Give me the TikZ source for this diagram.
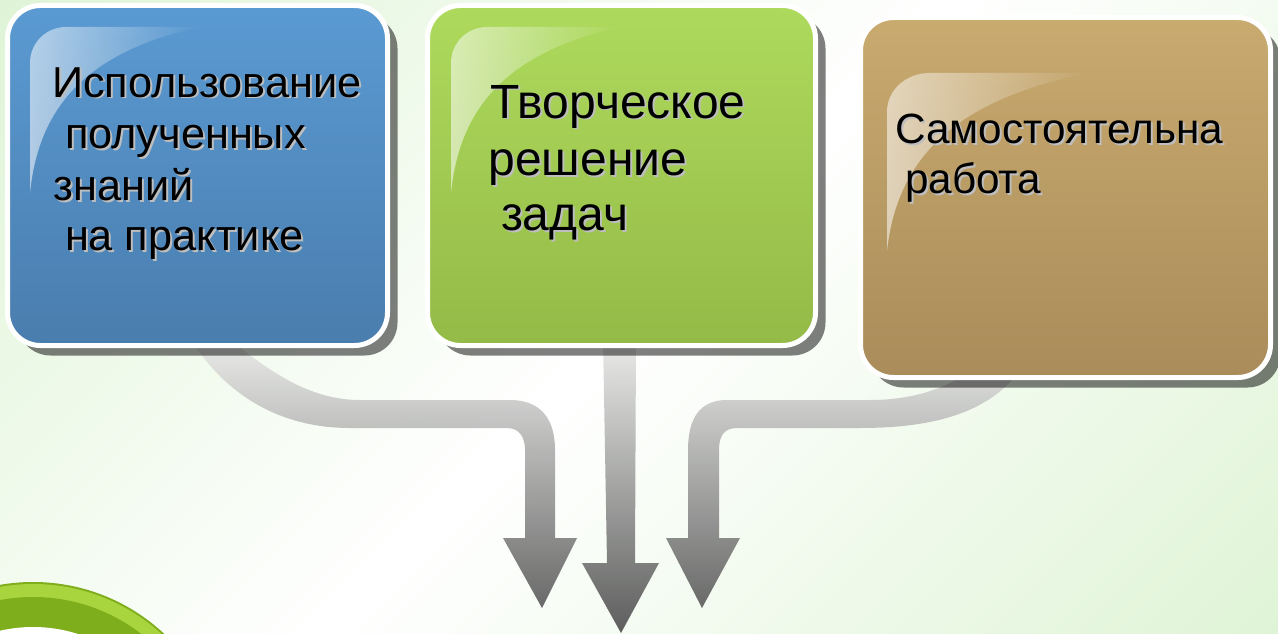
\documentclass[tikz,border=0pt]{standalone}
\usepackage{fontspec}
\setmainfont{Liberation Sans}
\usetikzlibrary{fadings,shadows}
\definecolor{bgG}{HTML}{DFF4D6}
\definecolor{blueT}{HTML}{5A9AD2}
\definecolor{blueB}{HTML}{4A7DAE}
\definecolor{greenT}{HTML}{ADDA5C}
\definecolor{greenB}{HTML}{94BA47}
\definecolor{tanT}{HTML}{C9AA6F}
\definecolor{tanB}{HTML}{A98C5A}
\definecolor{arrT}{HTML}{EBECEA}
\definecolor{arrB}{HTML}{555555}
\definecolor{txtsh}{HTML}{BEBEBE}
\definecolor{ringD}{HTML}{7FAE1C}
\definecolor{ringL}{HTML}{A8D43E}
\tikzfading[name=glossfade, left color=transparent!45, right color=transparent!100]
\tikzset{
  card/.style={draw=white, line width=5pt, rounded corners=33pt, inner sep=0pt,
    drop shadow={shadow xshift=10pt, shadow yshift=-10pt, opacity=0.5, fill=black}},
  lbl/.style={anchor=base west, inner sep=0pt, outer sep=0pt, text=black},
  gloss/.pic={\fill[white, path fading=glossfade] (0,36) -- (0,166) .. controls (8,86) and (50,26) .. (170,0) -- (36,0) .. controls (16,0) and (0,16) .. (0,36) -- cycle;}
}
\newcommand{\ShLabel}[5]{%
  \node[lbl, text=txtsh, xshift=2pt, yshift=-2pt, font=\fontsize{#4}{#4}\selectfont] at (#2,#3) {#5};
  \node[lbl, font=\fontsize{#4}{#4}\selectfont] (#1) at (#2,#3) {#5};}
\begin{document}
\begin{tikzpicture}[x=1pt,y=-1pt]
\useasboundingbox (0,0) rectangle (1278,634);
\clip (0,0) rectangle (1278,634);
% background
\shade[left color=bgG, right color=bgG, middle color=white, shading angle=45] (-200,-200) rectangle (1478,834);
% ring bottom-left
\fill[ringD] (33,774) circle (192);
\fill[ringL] (33,774) circle (190);
\fill[ringD] (33,774) circle (177);
\fill[white] (33,774) circle (147);
% arrows
\shade[top color=arrT, bottom color=arrB, opacity=0.95]
  (190,338) .. controls (225,395) and (280,428) .. (350,428) -- (507,428)
  .. controls (519,428) and (525,437) .. (525,450) -- (525,538) -- (503,538) -- (542,608) -- (577,538) -- (555,538)
  -- (555,450) .. controls (555,418) and (540,400) .. (510,400) -- (360,400)
  .. controls (310,400) and (270,372) .. (228,338) -- cycle
  (603,338) -- (636,338) -- (635,563) -- (659,563) -- (621,633) -- (582,563) -- (607,563) -- cycle
  (688,538) -- (666,538) -- (702,608) -- (740,538) -- (719,538) -- (719,450)
  .. controls (719,436) and (724,428) .. (737,428) -- (860,428)
  .. controls (950,428) and (995,405) .. (1022,368) -- (975,368)
  .. controls (945,390) and (910,400) .. (870,400) -- (727,400)
  .. controls (700,400) and (688,418) .. (688,450) -- cycle;
% cards
\node[card, top color=blueT, bottom color=blueB, minimum width=380pt, minimum height=340pt] (b1) at (197.5,175.5) {};
\node[card, top color=greenT, bottom color=greenB, minimum width=388pt, minimum height=340pt] (b2) at (621.5,175.5) {};
\node[card, top color=tanT, bottom color=tanB, minimum width=410pt, minimum height=360pt] (b3) at (1065.5,197.5) {};
\pic at (30,27) {gloss};
\pic at (451,27) {gloss};
\pic[xscale=1.19, yscale=1.07] at (887,73) {gloss};
% texts
\ShLabel{t11}{52}{97}{43.3}{Использование}
\ShLabel{t12}{65}{148}{43.3}{полученных}
\ShLabel{t13}{53.5}{200}{43.3}{знаний}
\ShLabel{t14}{65}{250}{43.3}{на практике}
\ShLabel{t21}{490.5}{118}{48}{Творческое}
\ShLabel{t22}{488.5}{175}{48}{решение}
\ShLabel{t23}{501}{230}{48}{задач}
\ShLabel{t31}{895}{143}{42.3}{Самостоятельна}
\ShLabel{t32}{905}{193}{42.3}{работа}
\end{tikzpicture}
\end{document}
